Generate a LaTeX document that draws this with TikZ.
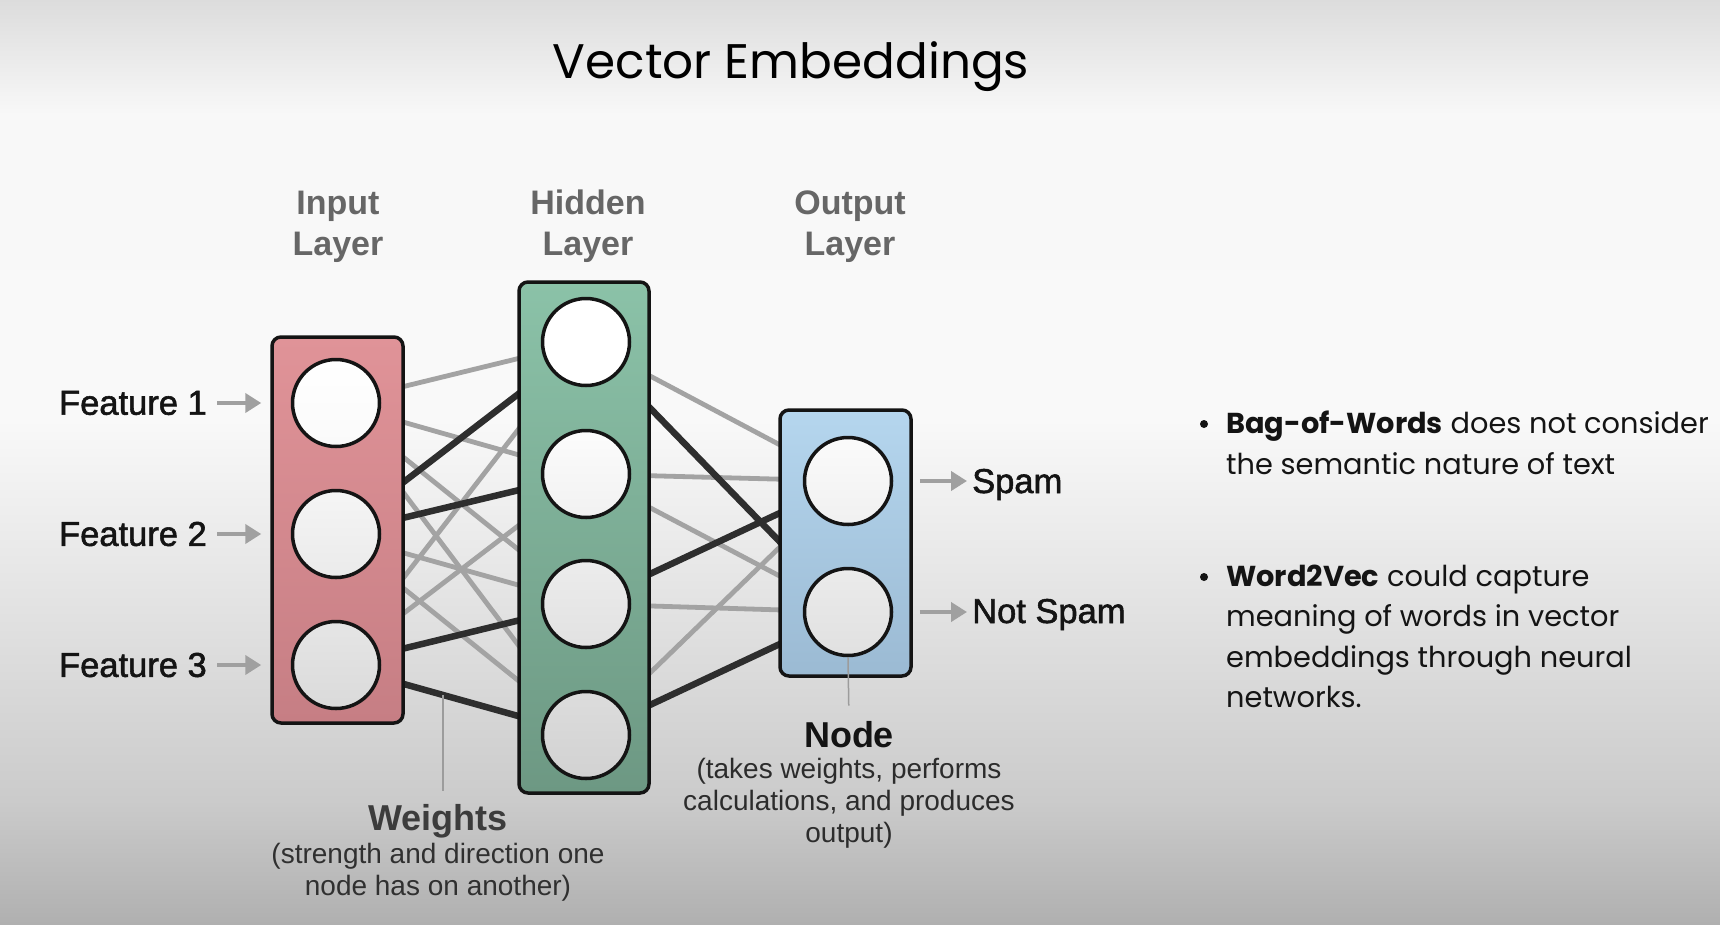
\documentclass[tikz,border=0pt]{standalone}
\usepackage{fontspec}
\setmainfont{Liberation Sans}
\newfontfamily\popfont{Poppins}
\newfontfamily\lblfont{Liberation Sans}[FakeBold=1.6]
\usetikzlibrary{arrows.meta}

% page colours
\definecolor{bgA}{gray}{0.690}
\definecolor{bgB}{gray}{0.796}
\definecolor{bgC}{gray}{0.976}
\definecolor{bgD}{gray}{0.973}
\definecolor{bgE}{gray}{0.863}
\pgfdeclareverticalshading{pagebg}{100bp}{color(0bp)=(bgA); color(25bp)=(bgA); color(31.71bp)=(bgB); color(52.27bp)=(bgC); color(68.78bp)=(bgD); color(75bp)=(bgE); color(100bp)=(bgE)}

% layer boxes
\definecolor{pinkT}{HTML}{E09398}
\definecolor{pinkB}{HTML}{C67E84}
\definecolor{greenT}{HTML}{8BC2A8}
\definecolor{greenB}{HTML}{6D9883}
\definecolor{blueT}{HTML}{B5D6EE}
\definecolor{blueB}{HTML}{9BBAD3}
% lines and text
\definecolor{wlight}{HTML}{A3A3A3}
\definecolor{wdark}{HTML}{2E2E2E}
\definecolor{arrcol}{HTML}{A0A0A0}
\definecolor{ptrcol}{HTML}{9C9C9C}
\definecolor{inkcol}{HTML}{141414}
\definecolor{layercol}{HTML}{666666}
\definecolor{wtcol}{HTML}{3C3C3C}

\pgfdeclarelayer{back}
\pgfdeclarelayer{wires}
\pgfsetlayers{back,wires,main}

\begin{document}
\begin{tikzpicture}[x=1pt, y=-1pt,
  layerbox/.style 2 args={draw=inkcol, line width=3.5pt, rounded corners=9pt,
    minimum width=131pt, inner sep=0pt, top color=#1, bottom color=#2},
  neuron/.style 2 args={circle, draw=inkcol, line width=3.5pt, minimum size=87pt,
    inner sep=0pt, top color=#1, bottom color=#2},
  wgray/.style={draw=wlight, line width=4.8pt},
  wblack/.style={draw=wdark, line width=6.5pt},
  arr/.style={draw=arrcol, line width=4pt, -{Triangle[length=16pt,width=19pt]}},
  ptr/.style={draw=ptrcol, line width=1.5pt},
  feat/.style={font=\lblfont\fontsize{34.5}{40}\selectfont, text=inkcol, inner sep=0pt},
  layerlbl/.style={font=\bfseries\fontsize{34}{41}\selectfont, text=layercol,
    align=center, inner sep=0pt},
  headlbl/.style={font=\bfseries\fontsize{36}{40}\selectfont, inner sep=0pt},
  sublbl/.style={font=\fontsize{28}{32}\selectfont, align=center, inner sep=0pt},
  bul/.style={font=\popfont\fontsize{28.8}{40.5}\selectfont, text=inkcol,
    align=left, inner sep=0pt},
  bdot/.style={circle, fill=inkcol, minimum size=8pt, inner sep=0pt}]

\useasboundingbox (0,0) rectangle (1720,924);
\begin{pgfonlayer}{back}
  \fill[shading=pagebg] (0,0) rectangle (1720,924);
\end{pgfonlayer}

% title
\node[font=\popfont\fontsize{48.5}{60}\selectfont, text=black, anchor=base, inner sep=0pt]
  (title) at (791,78) {Vector Embeddings};

% layer boxes
\node[layerbox={pinkT}{pinkB}, minimum height=386pt] (inbox) at (337.5,530) {};
\node[layerbox={greenT}{greenB}, minimum height=511pt, minimum width=130pt] (hidbox) at (584,537.5) {};
\node[layerbox={blueT}{blueB}, minimum height=266pt] (outbox) at (845.5,543) {};

% neurons
\node[neuron={white}{white!98!black}] (i1) at (336,403) {};
\node[neuron={white!96!black}{white!92!black}] (i2) at (336,534) {};
\node[neuron={white!90!black}{white!85.5!black}] (i3) at (336,665) {};
\node[neuron={white}{white}] (h1) at (586,342) {};
\node[neuron={white!98.7!black}{white!94.6!black}] (h2) at (586,474) {};
\node[neuron={white!92.6!black}{white!88.4!black}] (h3) at (586,604) {};
\node[neuron={white!86.4!black}{white!82.2!black}] (h4) at (586,735) {};
\node[neuron={white!98.4!black}{white!94.2!black}] (o1) at (848,481) {};
\node[neuron={white!92.2!black}{white!88!black}] (o2) at (848,612) {};

% weights between layers
\begin{pgfonlayer}{wires}
  \draw[wgray]  (i1.center) -- (h1.center);
  \draw[wgray]  (i1.center) -- (h2.center);
  \draw[wgray]  (i1.center) -- (h3.center);
  \draw[wgray]  (i1.center) -- (h4.center);
  \draw[wgray]  (i2.center) -- (h3.center);
  \draw[wgray]  (i2.center) -- (h4.center);
  \draw[wgray]  (i3.center) -- (h1.center);
  \draw[wgray]  (i3.center) -- (h2.center);
  \draw[wblack] (i2.center) -- (h1.center);
  \draw[wblack] (i2.center) -- (h2.center);
  \draw[wblack] (i3.center) -- (h3.center);
  \draw[wblack] (i3.center) -- (h4.center) coordinate[pos=0.428] (wpt);
  \draw[wgray]  (h1.center) -- (o1.center);
  \draw[wgray]  (h2.center) -- (o1.center);
  \draw[wgray]  (h2.center) -- (o2.center);
  \draw[wgray]  (h3.center) -- (o2.center);
  \draw[wgray]  (h4.center) -- (o1.center);
  \draw[wblack] (h1.center) -- (o2.center);
  \draw[wblack] (h3.center) -- (o1.center);
  \draw[wblack] (h4.center) -- (o2.center);
\end{pgfonlayer}

% layer captions (base = baseline of the last line)
\node[layerlbl, anchor=base] (inlbl)  at (338,255) {Input\\Layer};
\node[layerlbl, anchor=base] (hidlbl) at (588,255) {Hidden\\Layer};
\node[layerlbl, anchor=base] (outlbl) at (850,255) {Output\\Layer};

% inputs
\node[feat, anchor=east] (f1) at (207,403) {Feature 1};
\node[feat, anchor=east] (f2) at (207,534) {Feature 2};
\node[feat, anchor=east] (f3) at (207,665) {Feature 3};
\draw[arr] ([xshift=10pt]f1.east) -- ([xshift=-9pt]inbox.west |- i1);
\draw[arr] ([xshift=10pt]f2.east) -- ([xshift=-9pt]inbox.west |- i2);
\draw[arr] ([xshift=10pt]f3.east) -- ([xshift=-9pt]inbox.west |- i3);

% outputs
\node[feat, anchor=base west] (spam) at (972,493) {Spam};
\node[feat, anchor=base west] (nspam) at (972,623) {Not Spam};
\draw[arr] ([xshift=7pt]outbox.east |- o1) -- ([xshift=-5pt]spam.west |- o1);
\draw[arr] ([xshift=7pt]outbox.east |- o2) -- ([xshift=-5pt]nspam.west |- o2);

% annotation: weights
\node[headlbl, text=wtcol, anchor=base] (wlbl) at (438,830) {Weights};
\node[sublbl, text=wtcol!80!black, anchor=base] (wsub) at (438,895)
  {(strength and direction one\\node has on another)};
\draw[ptr, shorten >=13pt] (wpt) -- (wpt |- wlbl.north);

% annotation: node
\node[headlbl, text=inkcol, anchor=base] (nlbl) at (849,747) {Node};
\node[sublbl, text=inkcol!90, anchor=base] (nsub) at (849,842)
  {(takes weights, performs\\calculations, and produces\\output)};
\draw[ptr, shorten >=15pt] (o2.south) -- (nlbl.north);

% notes
\node[bdot] (d1) at (1204,424) {};
\node[bul, anchor=base west] (b1) at (1226,474)
  {\textbf{Bag-of-Words} does not consider\\the semantic nature of text};
\node[bdot] (d2) at (1204,577) {};
\node[bul, anchor=base west] (b2) at (1226,707.5)
  {\textbf{Word2Vec} could capture\\meaning of words in vector\\embeddings through neural\\networks.};

\end{tikzpicture}
\end{document}
